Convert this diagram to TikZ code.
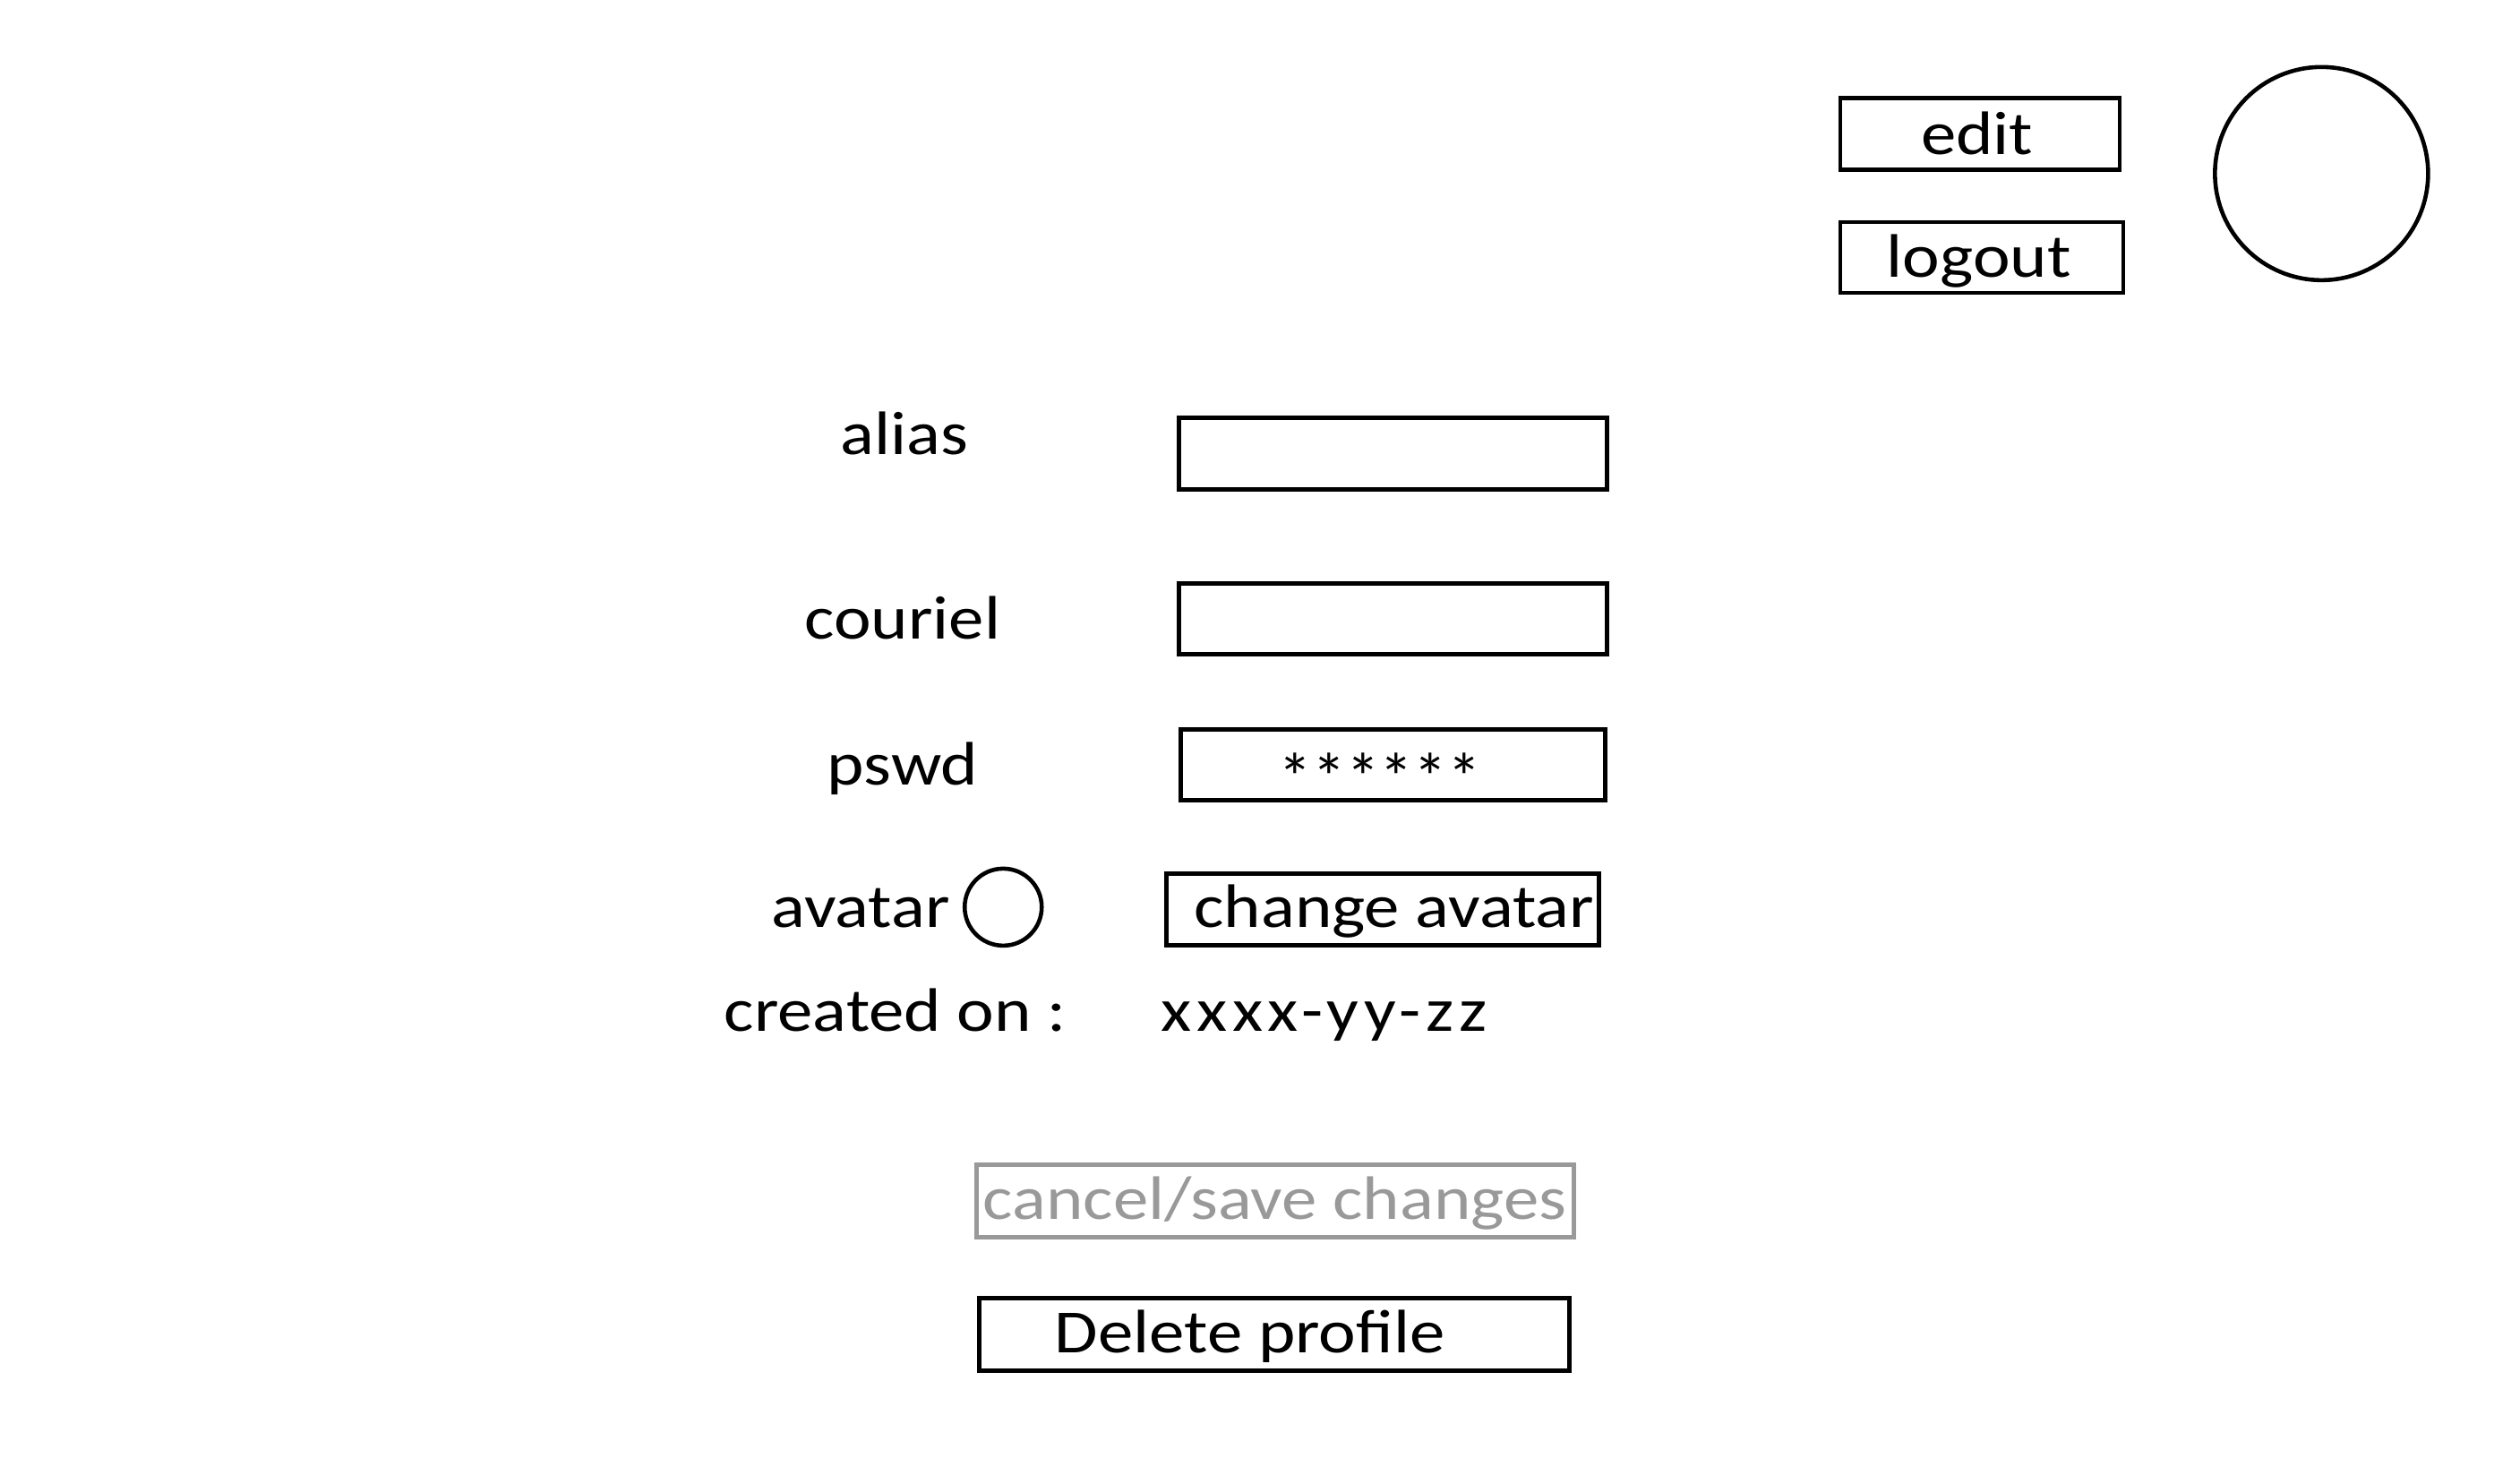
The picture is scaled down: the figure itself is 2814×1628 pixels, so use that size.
\documentclass[tikz,border=0pt]{standalone}
\usepackage{fontspec}
\setmainfont{Carlito}[FakeStretch=1.15]
\newfontfamily\widefont{Carlito}[FakeStretch=1.15,LetterSpace=8]
\newfontfamily\plainfont{Carlito}
\definecolor{dimgray}{HTML}{999999}
\begin{document}
\begin{tikzpicture}[x=0.01cm,y=-0.01cm,
  box/.style={draw,line width=1.3pt,inner sep=0pt,anchor=north west},
  lbl/.style={inner sep=0pt,anchor=base,font=\fontsize{19.5}{24}\selectfont},
  ring/.style={draw,line width=1.3pt,circle,inner sep=0pt}]
\useasboundingbox (0,0) rectangle (2814,1628);
\begin{scope}[scale=0.994]
% top-right buttons
\node[box,minimum width=312*0.01cm,minimum height=80*0.01cm] (editbox) at (2065,108) {};
\node[lbl] (edit) at (2221,174) {edit};
\node[box,minimum width=316*0.01cm,minimum height=79*0.01cm] (logoutbox) at (2065,247) {};
\node[lbl] (logout) at (2223,311) {logout};
\node[ring,minimum size=238*0.01cm] (bigavatar) at (2608,195) {};
% fields
\node[lbl] (alias) at (1016,511) {alias};
\node[box,minimum width=478*0.01cm,minimum height=80*0.01cm] (aliasbox) at (1322,467) {};
\node[lbl] (couriel) at (1014,718) {couriel};
\node[box,minimum width=478*0.01cm,minimum height=79*0.01cm] (courielbox) at (1322,653) {};
\node[lbl] (pswd) at (1014,882) {pswd};
\node[box,minimum width=474*0.01cm,minimum height=79*0.01cm] (pswdbox) at (1324,817) {};
\node[lbl,font=\plainfont\fontsize{21.5}{26}\selectfont] (stars) at (1550,900) {******};
\node[lbl] (avatar) at (967,1042) {avatar};
\node[ring,minimum size=86*0.01cm] (smallavatar) at (1127,1019) {};
\node[box,minimum width=483*0.01cm,minimum height=80*0.01cm] (changebox) at (1308,979) {};
\node[lbl] (change) at (1566,1042) {change avatar};
\node[lbl,anchor=base west] (created) at (813,1158) {created on :};
\node[lbl,anchor=base west] (date) at (1304,1158) {\widefont xxxx-yy-zz};
% bottom buttons
\node[box,draw=dimgray,minimum width=667*0.01cm,minimum height=81*0.01cm] (savebox) at (1095,1306) {};
\node[lbl,text=dimgray] (save) at (1432,1370) {cancel/save changes};
\node[box,minimum width=659*0.01cm,minimum height=81*0.01cm] (deletebox) at (1098,1456) {};
\node[lbl] (delete) at (1404,1520) {Delete profile};
\end{scope}
\end{tikzpicture}
\end{document}
